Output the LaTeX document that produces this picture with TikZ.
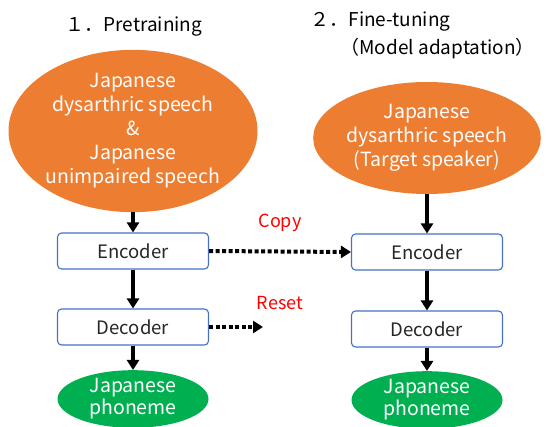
\documentclass[tikz,border=0pt]{standalone}
\usepackage{fontspec}
\setmainfont{Noto Sans CJK JP}
\usetikzlibrary{shapes.geometric,arrows.meta}
\definecolor{orng}{HTML}{ED7D31}
\definecolor{grn}{HTML}{00B050}
\definecolor{bluebd}{HTML}{4472C4}
\definecolor{txt}{HTML}{262626}
\tikzset{
  inp/.style={ellipse, fill=orng, draw=none, text=white, align=center, inner sep=0pt, font=\fontsize{19.5}{24}\selectfont},
  outp/.style={ellipse, fill=grn, draw=none, text=white, align=center, inner sep=0pt, font=\fontsize{19.5}{22}\selectfont},
  blk/.style={rectangle, rounded corners=4pt, draw=bluebd, line width=1.1pt, fill=white, minimum width=151pt, minimum height=36pt, text=txt, font=\fontsize{18.5}{20}\selectfont},
  flow/.style={-{Triangle[length=10pt,width=12pt]}, line width=3.5pt},
  cpy/.style={-{Triangle[length=10pt,width=12pt]}, line width=4pt, dash pattern=on 4pt off 2.5pt},
  lbl/.style={text=red, font=\fontsize{18}{20}\selectfont},
  ttl/.style={text=black, font=\fontsize{19}{22}\selectfont, anchor=west},
}
\begin{document}
\begin{tikzpicture}[x=1pt,y=-1pt]
\useasboundingbox (0,0) rectangle (553,427);
\node[ttl] (t1) at (62,27) {１．Pretraining};
\node[ttl] (t2) at (307,22) {２．Fine-tuning};
\node[ttl] (t3) at (337,49) {（Model adaptation）};

\node[inp, minimum width=249pt, minimum height=140pt] (in1) at (133,131) {Japanese\\dysarthric speech\\\&\\Japanese\\unimpaired speech};
\node[inp, minimum width=190pt, minimum height=112pt] (in2) at (427,138) {Japanese\\dysarthric speech\\(Target speaker)};

\node[blk] (enc1) at (133,251) {Encoder};
\node[blk] (dec1) at (133,327) {Decoder};
\node[blk] (enc2) at (427,252) {Encoder};
\node[blk] (dec2) at (427,329) {Decoder};

\node[outp, minimum width=151pt, minimum height=56pt] (ph1) at (133,399) {Japanese\\phoneme};
\node[outp, minimum width=151pt, minimum height=56pt] (ph2) at (427,400) {Japanese\\phoneme};

\draw[flow] (in1.south) -- (enc1.north);
\draw[flow] (enc1.south) -- (dec1.north);
\draw[flow] (dec1.south) -- (ph1.north);
\draw[flow] (in2.south) -- (enc2.north);
\draw[flow] (enc2.south) -- (dec2.north);
\draw[flow] (dec2.south) -- (ph2.north);

\coordinate (rs) at (263,327);
\draw[cpy] (enc1.east) -- (enc2.west);
\draw[cpy] (dec1.east) -- (rs);
\node[lbl] (copy) at (280,223) {Copy};
\node[lbl] (reset) at (280,303) {Reset};
\end{tikzpicture}
\end{document}
